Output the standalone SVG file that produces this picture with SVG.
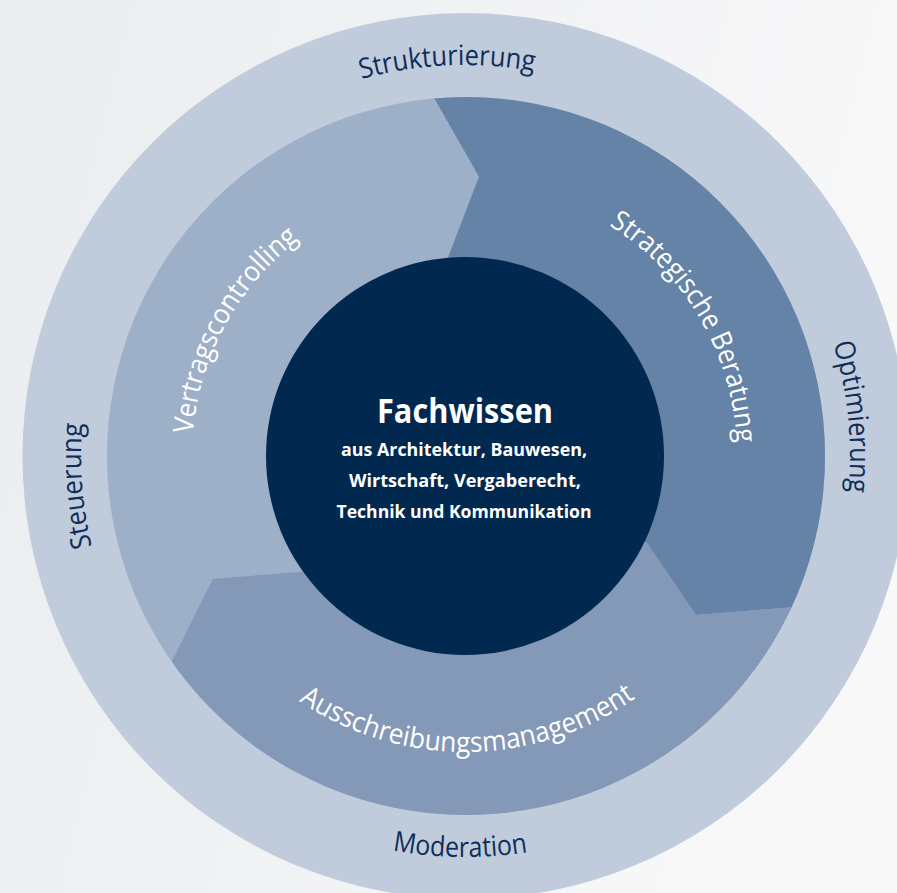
<svg xmlns="http://www.w3.org/2000/svg" width="897" height="893" viewBox="0 0 897 893">
  <defs>
    <linearGradient id="bg" x1="0" y1="0" x2="1" y2="0.25">
      <stop offset="0" stop-color="#eaecef"/>
      <stop offset="1" stop-color="#f8f8f9"/>
    </linearGradient>
    <clipPath id="ringClip">
      <circle cx="466" cy="456" r="359"/>
    </clipPath>
    <path id="pStruk" d="M200.3,168.2 A391,391 0 0 1 702.5,145.4"/>
    <path id="pOpti" d="M733.4,180.0 A385,385 0 0 1 783.4,672.4"/>
    <path id="pMode" d="M203.5,760.0 A401,401 0 0 0 719.0,766.3"/>
    <path id="pSteu" d="M190.6,724.7 A384,384 0 0 1 152.8,232.5"/>
    <path id="pVert" d="M232.0,598.2 A273,273 0 0 1 458.3,183.1"/>
    <path id="pStra" d="M463.1,184.0 A272,272 0 0 1 701.5,590.3"/>
    <path id="pAuss" d="M210.0,606.2 A296,296 0 0 0 722.6,601.8"/>
  </defs>
  <style>
    .outerLbl { font-family: "Open Sans", "Noto Sans", sans-serif; font-size: 28px; fill: #0f2d59; }
    .innerLbl { font-family: "Open Sans", "Noto Sans", sans-serif; font-size: 28px; fill: #ffffff; }
    .core-title { font-family: "Open Sans", "Noto Sans", sans-serif; font-size: 34px; font-weight: bold; fill: #ffffff; }
    .core-sub { font-family: "Open Sans", "Noto Sans", sans-serif; font-size: 17.5px; font-weight: bold; fill: #ffffff; }
  </style>

  <rect x="0" y="0" width="897" height="893" fill="url(#bg)"/>

  <g id="ring-outer">
    <circle cx="465.5" cy="456" r="443" fill="#c0ccdc"/>
    <text class="outerLbl"><textPath href="#pStruk" startOffset="50%" text-anchor="middle" textLength="174" lengthAdjust="spacingAndGlyphs">Strukturierung</textPath></text>
    <text class="outerLbl"><textPath href="#pOpti" startOffset="50%" text-anchor="middle" textLength="150" lengthAdjust="spacingAndGlyphs">Optimierung</textPath></text>
    <text class="outerLbl"><textPath href="#pMode" startOffset="50%" text-anchor="middle" textLength="136" lengthAdjust="spacingAndGlyphs">Moderation</textPath></text>
    <text class="outerLbl"><textPath href="#pSteu" startOffset="50%" text-anchor="middle" textLength="124" lengthAdjust="spacingAndGlyphs">Steuerung</textPath></text>
  </g>

  <g id="seg-vertragscontrolling">
    <circle cx="466" cy="456" r="359" fill="#9eafc8"/>
  </g>

  <g id="seg-strategische-beratung" clip-path="url(#ringClip)">
    <polygon points="389.6,19.9 479,176.7 448.3,256.7 465,456 646.7,542.7 696,615 885.4,599.6 900,-50" fill="#6582a7"/>
  </g>

  <g id="seg-ausschreibungsmanagement" clip-path="url(#ringClip)">
    <polygon points="885.4,599.6 696,615 646.7,542.7 465,456 301.7,571.7 212.7,579 130.7,744.4 100,950 900,950" fill="#8399b7"/>
  </g>

  <g id="segment-labels">
    <text class="innerLbl"><textPath href="#pVert" startOffset="50%" text-anchor="middle" textLength="228" lengthAdjust="spacingAndGlyphs">Vertragscontrolling</textPath></text>
    <text class="innerLbl"><textPath href="#pStra" startOffset="50%" text-anchor="middle" textLength="262" lengthAdjust="spacingAndGlyphs">Strategische Beratung</textPath></text>
    <text class="innerLbl"><textPath href="#pAuss" startOffset="50%" text-anchor="middle" textLength="358" lengthAdjust="spacingAndGlyphs">Ausschreibungsmanagement</textPath></text>
  </g>

  <g id="core">
    <circle cx="465" cy="456" r="199" fill="#01284f"/>
    <text class="core-title" x="465" y="423" text-anchor="middle" textLength="176" lengthAdjust="spacingAndGlyphs">Fachwissen</text>
    <text class="core-sub" x="464" y="456" text-anchor="middle" textLength="246" lengthAdjust="spacingAndGlyphs">aus Architektur, Bauwesen,</text>
    <text class="core-sub" x="465" y="487" text-anchor="middle" textLength="232" lengthAdjust="spacingAndGlyphs">Wirtschaft, Vergaberecht,</text>
    <text class="core-sub" x="464" y="518" text-anchor="middle" textLength="255" lengthAdjust="spacingAndGlyphs">Technik und Kommunikation</text>
  </g>

  <g id="connectors"/>
</svg>
